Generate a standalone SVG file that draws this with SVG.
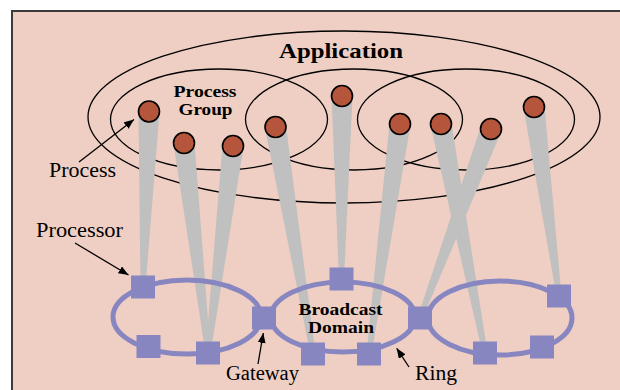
<svg xmlns="http://www.w3.org/2000/svg" width="620" height="390" viewBox="0 0 620 390">
<defs>
<style>
.outline{fill:none;stroke:#000;stroke-width:1.3}
.beam{fill:#c0c0c0;stroke:none}
.proc{fill:#b5553b;stroke:#000;stroke-width:1.6}
.cpu{fill:#8886c0;stroke:none}
.ring{fill:none;stroke:#8886c0;stroke-width:5}
.bold{font-family:"Liberation Serif","Times New Roman",serif;font-weight:bold;font-size:16px;fill:#000;text-anchor:middle}
.lbl{font-family:"Liberation Serif","Times New Roman",serif;font-size:20px;fill:#000}
.arr{stroke:#000;stroke-width:1.3;fill:none;marker-end:url(#ah)}
</style>
<marker id="ah" viewBox="0 0 10 8" refX="10" refY="4" markerWidth="10" markerHeight="8" markerUnits="userSpaceOnUse" orient="auto">
<path d="M0,0 L10,4 L0,8 Z" fill="#000"/>
</marker>
</defs>
<rect x="12" y="11" width="620" height="390" fill="#efcfc3" stroke="#3b3b3b" stroke-width="2"/>

<g id="application">
<ellipse class="outline" cx="344" cy="117" rx="256" ry="86"/>
<text class="bold" x="341" y="58" style="font-size:22px" textLength="124" lengthAdjust="spacingAndGlyphs">Application</text>
</g>
<g id="group-left">
<ellipse class="outline" cx="219" cy="119.5" rx="108.5" ry="50.5"/>
<text class="bold" x="205" y="97" textLength="63" lengthAdjust="spacingAndGlyphs">Process</text>
<text class="bold" x="205.5" y="115" textLength="54" lengthAdjust="spacingAndGlyphs">Group</text>
</g>
<g id="group-middle">
<ellipse class="outline" cx="354" cy="119.5" rx="108.5" ry="50.5"/>
</g>
<g id="group-right">
<ellipse class="outline" cx="466" cy="119.5" rx="108.5" ry="50.5"/>
</g>

<g id="connectors">
<polygon class="beam" points="138.5,111.1 159.5,111.9 145.5,287.1 140.5,286.9"/>
<polygon class="beam" points="173.6,144.2 194.4,141.8 210.5,352.7 205.5,353.3"/>
<polygon class="beam" points="222.6,144.7 243.4,147.3 210.5,353.3 205.5,352.7"/>
<polygon class="beam" points="265.1,128.7 285.9,125.3 315.5,353.6 310.5,354.4"/>
<polygon class="beam" points="331.5,96 352.5,96 344,279 339,279"/>
<polygon class="beam" points="389.6,122.6 410.4,125.4 371.5,354.3 366.5,353.7"/>
<polygon class="beam" points="430.7,126 451.3,122 487.5,352.5 482.5,353.5"/>
<polygon class="beam" points="481.2,125.3 500.8,132.7 422.3,318.9 417.7,317.1"/>
<polygon class="beam" points="523.6,108.4 544.4,105.6 561.5,295.7 556.5,296.3"/>
<line class="arr" x1="79" y1="162" x2="134" y2="119.5"/>
<line class="arr" x1="75" y1="243" x2="128.5" y2="275"/>
<line class="arr" x1="258" y1="364" x2="263.3" y2="333"/>
<line class="arr" x1="409" y1="367" x2="396.7" y2="348.3"/>
</g>

<g id="process-1"><circle class="proc" cx="149" cy="111.5" r="10.5"/></g>
<g id="process-2"><circle class="proc" cx="184" cy="143" r="10.5"/></g>
<g id="process-3"><circle class="proc" cx="233" cy="146" r="10.5"/></g>
<g id="process-4"><circle class="proc" cx="275.5" cy="127" r="10.5"/></g>
<g id="process-5"><circle class="proc" cx="342" cy="96" r="10.5"/></g>
<g id="process-6"><circle class="proc" cx="400" cy="124" r="10.5"/></g>
<g id="process-7"><circle class="proc" cx="441" cy="124" r="10.5"/></g>
<g id="process-8"><circle class="proc" cx="491" cy="129" r="10.5"/></g>
<g id="process-9"><circle class="proc" cx="534" cy="107" r="10.5"/></g>

<g id="ring-left"><ellipse class="ring" cx="187" cy="317" rx="74" ry="37"/></g>
<g id="ring-middle">
<ellipse class="ring" cx="343" cy="317" rx="72" ry="35"/>
<text class="bold" x="340.5" y="315" textLength="84" lengthAdjust="spacingAndGlyphs">Broadcast</text>
<text class="bold" x="341" y="333" textLength="66" lengthAdjust="spacingAndGlyphs">Domain</text>
</g>
<g id="ring-right"><ellipse class="ring" cx="500" cy="318" rx="72" ry="37"/></g>

<g id="processor-1"><rect class="cpu" x="131" y="275.5" width="24" height="23"/></g>
<g id="processor-2"><rect class="cpu" x="136.5" y="335" width="24" height="23"/></g>
<g id="processor-3"><rect class="cpu" x="196" y="341.5" width="24" height="23"/></g>
<g id="gateway-1"><rect class="cpu" x="252" y="306.5" width="24" height="23"/></g>
<g id="processor-4"><rect class="cpu" x="329.5" y="267.5" width="24" height="23"/></g>
<g id="processor-5"><rect class="cpu" x="301" y="342.5" width="24" height="23"/></g>
<g id="processor-6"><rect class="cpu" x="357" y="342.5" width="24" height="23"/></g>
<g id="gateway-2"><rect class="cpu" x="408" y="306.5" width="24" height="23"/></g>
<g id="processor-7"><rect class="cpu" x="473" y="341.5" width="24" height="23"/></g>
<g id="processor-8"><rect class="cpu" x="530" y="335.5" width="24" height="23"/></g>
<g id="processor-9"><rect class="cpu" x="547" y="284.5" width="24" height="23"/></g>

<g id="labels">
<text class="lbl" x="49" y="177" textLength="67" lengthAdjust="spacingAndGlyphs">Process</text>
<text class="lbl" x="36" y="237" textLength="87" lengthAdjust="spacingAndGlyphs">Processor</text>
<text class="lbl" x="226" y="380" textLength="73" lengthAdjust="spacingAndGlyphs">Gateway</text>
<text class="lbl" x="415" y="380" textLength="42" lengthAdjust="spacingAndGlyphs">Ring</text>
</g>
</svg>
